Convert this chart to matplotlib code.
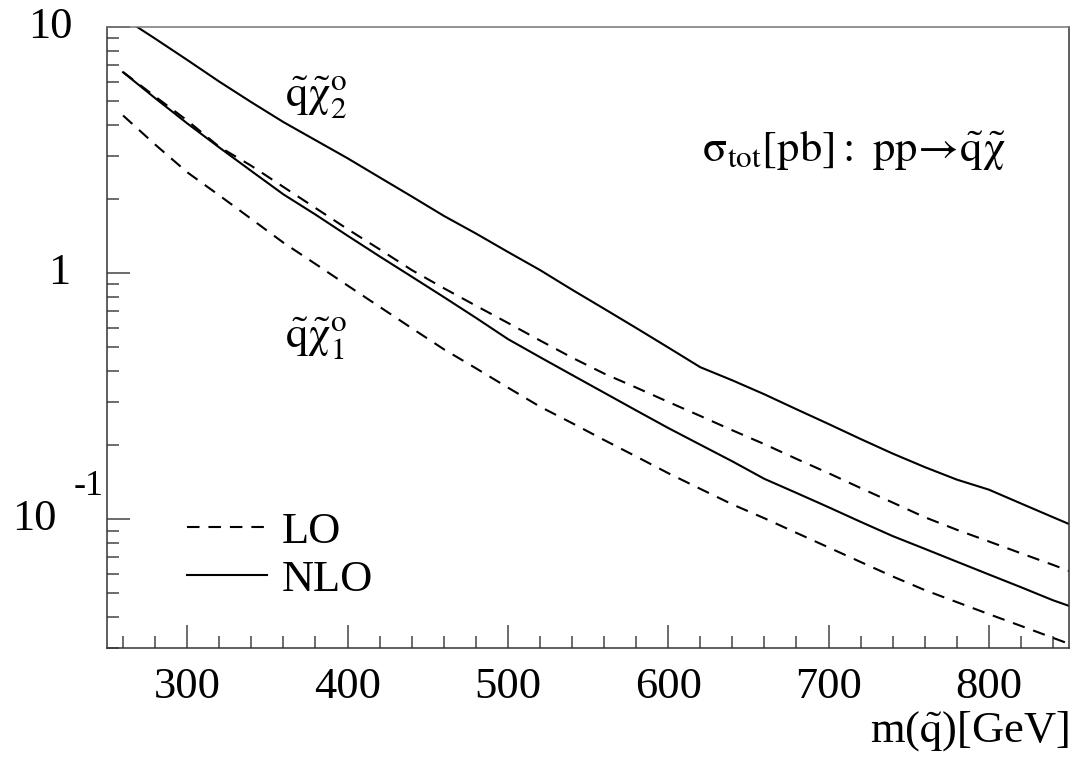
import matplotlib
matplotlib.use("Agg")
import matplotlib.pyplot as plt
import matplotlib.ticker as mticker
from matplotlib.lines import Line2D

plt.rcParams['font.family'] = ['Liberation Serif', 'DejaVu Serif']
plt.rcParams['mathtext.fontset'] = 'stix'

# squark mass [GeV]
mass = [260, 280, 300, 320, 340, 360, 380, 400, 420, 440, 460, 480, 500, 520, 540,
        560, 580, 600, 620, 640, 660, 680, 700, 720, 740, 760, 780, 800, 820, 840, 850]

# sigma_tot [pb]
nlo_chi2 = [10.9, 8.97, 7.35, 6.00, 4.95, 4.11, 3.47, 2.93, 2.45, 2.05, 1.71, 1.45,
            1.22, 1.03, 0.857, 0.717, 0.599, 0.499, 0.415, 0.367, 0.322, 0.280, 0.244,
            0.212, 0.185, 0.163, 0.145, 0.132, 0.116, 0.102, 0.0957]
lo_chi2 = [6.56, 5.22, 4.17, 3.26, 2.73, 2.24, 1.84, 1.51, 1.25, 1.03, 0.869, 0.738,
           0.628, 0.533, 0.454, 0.391, 0.343, 0.300, 0.263, 0.230, 0.202, 0.176, 0.154,
           0.134, 0.117, 0.102, 0.0907, 0.0813, 0.0728, 0.0653, 0.0617]
nlo_chi1 = [6.55, 5.14, 4.06, 3.24, 2.60, 2.09, 1.73, 1.42, 1.17, 0.968, 0.800, 0.659,
            0.540, 0.456, 0.386, 0.327, 0.277, 0.235, 0.201, 0.172, 0.146, 0.128, 0.112,
            0.0977, 0.0855, 0.0759, 0.0673, 0.0597, 0.0530, 0.0469, 0.0445]
lo_chi1 = [4.37, 3.33, 2.57, 2.07, 1.66, 1.33, 1.09, 0.891, 0.730, 0.598, 0.491, 0.411,
           0.343, 0.287, 0.246, 0.210, 0.180, 0.154, 0.133, 0.115, 0.101, 0.0881, 0.0769,
           0.0671, 0.0586, 0.0516, 0.0461, 0.0412, 0.0369, 0.0330, 0.0312]

dash = (0, (6, 4.3))

fig = plt.figure(figsize=(10.77, 7.59), dpi=100)
ax = fig.add_axes([0.0994, 0.1462, 0.8932, 0.8182])

ax.plot(mass, nlo_chi2, color='black', lw=1.5)
ax.plot(mass, lo_chi2, color='black', lw=1.5, ls=dash)
ax.plot(mass, nlo_chi1, color='black', lw=1.5)
ax.plot(mass, lo_chi1, color='black', lw=1.5, ls=dash)

ax.set_yscale('log')
ax.set_xlim(250, 850)
ax.set_ylim(0.03, 10)

# x axis ticks
ax.xaxis.set_major_locator(mticker.MultipleLocator(100))
ax.xaxis.set_minor_locator(mticker.MultipleLocator(20))
ax.tick_params(axis='x', which='major', labelsize=32, pad=14)

# y axis ticks, labels drawn by hand (ROOT style)
ax.yaxis.set_major_locator(mticker.FixedLocator([0.1, 1, 10]))
ax.yaxis.set_minor_locator(mticker.LogLocator(base=10, subs=range(2, 10)))
ax.yaxis.set_major_formatter(mticker.NullFormatter())
ax.yaxis.set_minor_formatter(mticker.NullFormatter())

ax.tick_params(which='both', direction='in', top=False, right=False, color='#444444', width=1.1)
ax.tick_params(which='major', length=16.5)
ax.tick_params(which='minor', length=8.5)
for s in ax.spines.values():
    s.set_linewidth(1.1)
    s.set_color('#333333')
ax.spines['top'].set_color('#777777')

ytr = ax.get_yaxis_transform()
ax.text(-0.036, 10, '10', transform=ytr, ha='right', va='center', fontsize=32)
ax.text(-0.038, 1, '1', transform=ytr, ha='right', va='center', fontsize=32)
ax.text(-0.052, 0.1, '10', transform=ytr, ha='right', va='center', fontsize=32)
ax.text(-0.035, 0.136, '-1', transform=ytr, ha='left', va='center', fontsize=26)

ax.text(1.0, -0.098, r'm($\tilde{\mathrm{q}}$)[GeV]', transform=ax.transAxes,
        ha='right', va='top', fontsize=32)

ax.text(0.185, 0.885, r'$\tilde{\mathrm{q}}\tilde{\mathrm{\chi}}^{\mathrm{o}}_{2}$', transform=ax.transAxes,
        ha='left', va='center', fontsize=32)
ax.text(0.185, 0.497, r'$\tilde{\mathrm{q}}\tilde{\mathrm{\chi}}^{\mathrm{o}}_{1}$', transform=ax.transAxes,
        ha='left', va='center', fontsize=32)
ax.text(0.618, 0.802,
        r'$\mathrm{\sigma}_{\mathrm{tot}}\mathrm{[pb]:\ pp}\!\rightarrow\!\tilde{\mathrm{q}}\tilde{\mathrm{\chi}}$',
        transform=ax.transAxes, ha='left', va='center', fontsize=32)

handles = [Line2D([], [], color='black', lw=1.5, ls=dash),
           Line2D([], [], color='black', lw=1.5)]
ax.legend(handles, ['LO', 'NLO'], loc='center left', bbox_to_anchor=(0.083, 0.149),
          frameon=False, fontsize=32, handlelength=1.8, handletextpad=0.34,
          labelspacing=0.18, borderpad=0, borderaxespad=0)

fig.savefig('out.png', dpi=100)
